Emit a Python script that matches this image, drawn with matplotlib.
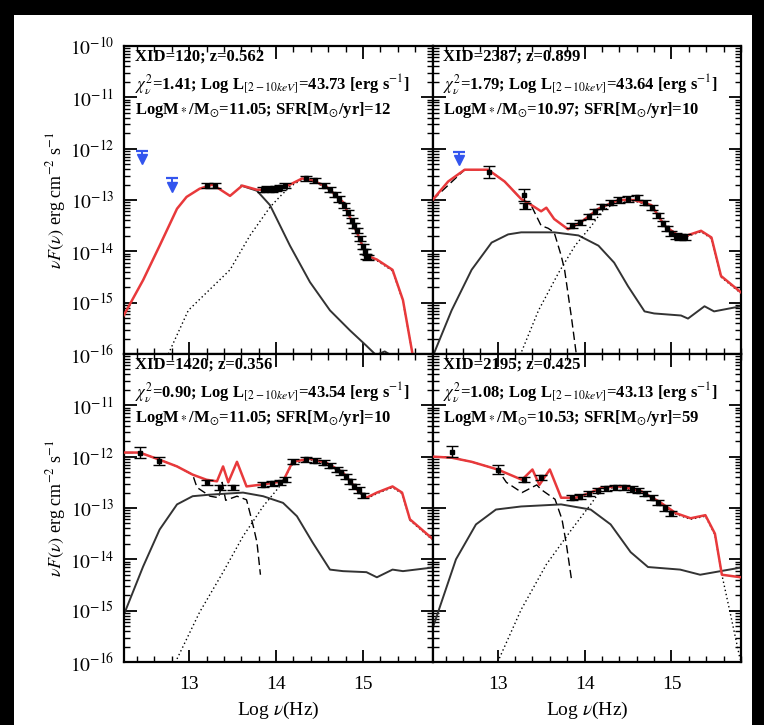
import matplotlib
matplotlib.use('Agg')
import matplotlib.pyplot as plt
import numpy as np
from matplotlib.patches import Rectangle
from matplotlib.ticker import MultipleLocator, LogLocator, NullFormatter, FixedLocator, FuncFormatter

# ---------------- data (log10 nu [Hz], log10 nuF_nu [erg cm^-2 s^-1]) ----------------
# Panel 1: XID=120
p1_total_x = [12.24, 12.47, 12.66, 12.86, 12.97, 13.12, 13.27, 13.47, 13.61, 13.78, 14.01, 14.16, 14.30, 14.42, 14.58, 14.77, 14.93, 15.04, 15.16, 15.34, 15.46, 15.57, 15.62]
p1_total_y = [-15.27, -14.56, -13.89, -13.17, -12.94, -12.78, -12.70, -12.92, -12.72, -12.80, -12.80, -12.70, -12.58, -12.62, -12.74, -13.04, -13.63, -14.08, -14.16, -14.36, -14.95, -16.0, -16.6]
p1_torus_x = [13.60, 13.78, 13.93, 14.16, 14.39, 14.62, 14.85, 15.04, 15.15, 15.25, 15.35, 15.45]
p1_torus_y = [-12.72, -12.82, -13.10, -13.89, -14.60, -15.15, -15.54, -15.84, -16.02, -15.95, -16.05, -16.2]
p1_star_x = [12.76, 12.99, 13.47, 13.70, 13.93, 14.04, 14.16, 14.30, 14.42, 14.58, 14.77, 14.93, 15.04, 15.16, 15.34, 15.46, 15.57]
p1_star_y = [-16.0, -15.15, -14.36, -13.69, -13.14, -12.94, -12.74, -12.60, -12.64, -12.76, -13.06, -13.65, -14.10, -14.18, -14.38, -14.97, -16.0]
p1_sb_x = []
p1_sb_y = []
p1_pts_x = [13.20, 13.30, 13.85, 13.90, 13.95, 14.00, 14.05, 14.10, 14.35, 14.45, 14.55, 14.62, 14.68, 14.72, 14.78, 14.83, 14.87, 14.90, 14.93, 14.96, 15.00, 15.02, 15.04, 15.06]
p1_pts_y = [-12.72, -12.72, -12.80, -12.78, -12.80, -12.77, -12.75, -12.72, -12.58, -12.62, -12.72, -12.80, -12.90, -12.98, -13.10, -13.25, -13.40, -13.50, -13.60, -13.75, -13.90, -14.00, -14.10, -14.12]
p1_pts_e = [0.05] * 24
p1_ul_x = [12.46, 12.80]
p1_ul_y = [-12.05, -12.58]

# Panel 2: XID=2387
p2_total_x = [12.25, 12.43, 12.62, 12.89, 13.08, 13.27, 13.39, 13.50, 13.56, 13.65, 13.81, 13.96, 14.16, 14.39, 14.57, 14.77, 14.92, 15.11, 15.34, 15.46, 15.57, 15.80]
p2_total_y = [-13.00, -12.64, -12.41, -12.41, -12.64, -12.98, -13.10, -13.22, -13.15, -13.37, -13.57, -13.43, -13.17, -13.00, -13.00, -13.10, -13.50, -13.73, -13.60, -13.73, -14.48, -14.80]
p2_torus_x = [12.24, 12.47, 12.70, 12.93, 13.12, 13.27, 13.65, 13.93, 14.16, 14.34, 14.50, 14.69, 14.80, 15.11, 15.19, 15.38, 15.49, 15.80]
p2_torus_y = [-16.10, -15.15, -14.36, -13.83, -13.67, -13.63, -13.63, -13.69, -13.89, -14.22, -14.68, -15.17, -15.21, -15.25, -15.31, -15.07, -15.17, -15.07]
p2_star_x = [13.24, 13.47, 13.70, 13.89, 14.08, 14.20, 14.39, 14.57, 14.77, 14.92, 15.11, 15.34, 15.46, 15.57, 15.80]
p2_star_y = [-16.10, -15.15, -14.42, -13.89, -13.50, -13.22, -13.02, -13.02, -13.12, -13.52, -13.75, -13.62, -13.75, -14.50, -14.82]
p2_sb_x = [12.25, 12.62, 12.89, 13.08, 13.27, 13.39, 13.50, 13.58, 13.65, 13.73, 13.77, 13.85, 13.92]
p2_sb_y = [-13.00, -12.41, -12.41, -12.64, -12.98, -13.12, -13.50, -13.55, -13.63, -14.08, -14.36, -15.3, -16.2]
p2_pts_x = [12.90, 13.30, 13.32, 13.85, 13.95, 14.05, 14.12, 14.20, 14.30, 14.40, 14.50, 14.60, 14.70, 14.78, 14.85, 14.90, 14.95, 15.00, 15.05, 15.10, 15.15]
p2_pts_y = [-12.45, -12.90, -13.12, -13.50, -13.43, -13.32, -13.22, -13.12, -13.05, -13.00, -12.98, -12.95, -13.05, -13.15, -13.30, -13.45, -13.55, -13.65, -13.70, -13.72, -13.72]
p2_pts_e = [0.12, 0.12, 0.06] + [0.05] * 18
p2_ul_x = [12.55]
p2_ul_y = [-12.07]

# Panel 3: XID=1420
p3_total_x = [12.26, 12.43, 12.66, 12.86, 13.04, 13.20, 13.32, 13.39, 13.45, 13.55, 13.66, 13.85, 14.08, 14.19, 14.39, 14.58, 14.77, 14.93, 15.04, 15.16, 15.34, 15.45, 15.54, 15.80]
p3_total_y = [-11.92, -11.92, -12.06, -12.19, -12.35, -12.45, -12.48, -12.19, -12.50, -12.10, -12.58, -12.54, -12.48, -12.10, -12.04, -12.12, -12.31, -12.64, -12.80, -12.70, -12.58, -12.70, -13.22, -13.60]
p3_torus_x = [12.26, 12.47, 12.66, 12.86, 13.04, 13.24, 13.62, 13.85, 14.08, 14.24, 14.42, 14.62, 14.77, 15.04, 15.16, 15.34, 15.46, 15.80]
p3_torus_y = [-15.03, -14.14, -13.42, -12.93, -12.77, -12.74, -12.70, -12.77, -12.90, -13.16, -13.67, -14.20, -14.23, -14.25, -14.35, -14.20, -14.23, -14.16]
p3_star_x = [12.86, 13.12, 13.39, 13.62, 13.85, 14.04, 14.19, 14.39, 14.58, 14.77, 14.93, 15.04, 15.16, 15.34, 15.45, 15.54, 15.80]
p3_star_y = [-15.94, -15.03, -14.25, -13.55, -12.97, -12.58, -12.14, -12.06, -12.14, -12.33, -12.66, -12.82, -12.72, -12.60, -12.72, -13.24, -13.62]
p3_sb_x = [12.26, 12.43, 12.66, 12.86, 13.04, 13.09, 13.24, 13.34, 13.38, 13.42, 13.55, 13.66, 13.70, 13.74, 13.78, 13.82]
p3_sb_y = [-11.92, -11.92, -12.06, -12.19, -12.35, -12.60, -12.77, -12.80, -12.50, -12.85, -12.77, -12.84, -13.10, -13.37, -13.67, -14.3]
p3_pts_x = [12.43, 12.65, 13.20, 13.35, 13.50, 13.85, 13.95, 14.05, 14.10, 14.20, 14.35, 14.45, 14.55, 14.62, 14.70, 14.75, 14.80, 14.85, 14.90, 14.95, 15.00]
p3_pts_y = [-11.92, -12.08, -12.50, -12.60, -12.60, -12.55, -12.52, -12.50, -12.45, -12.10, -12.05, -12.08, -12.12, -12.18, -12.25, -12.30, -12.38, -12.48, -12.58, -12.65, -12.75]
p3_pts_e = [0.10, 0.08] + [0.05] * 19
p3_ul_x = []
p3_ul_y = []

# Panel 4: XID=2195
p4_total_x = [12.26, 12.47, 12.70, 13.00, 13.28, 13.40, 13.48, 13.60, 13.73, 13.90, 14.07, 14.20, 14.42, 14.65, 14.88, 15.05, 15.22, 15.39, 15.50, 15.58, 15.80]
p4_total_y = [-12.00, -12.02, -12.10, -12.25, -12.45, -12.25, -12.55, -12.25, -12.80, -12.80, -12.70, -12.60, -12.58, -12.67, -12.90, -13.10, -13.20, -13.14, -13.50, -14.30, -14.35]
p4_torus_x = [12.26, 12.52, 12.75, 12.98, 13.27, 13.73, 14.07, 14.30, 14.53, 14.73, 15.10, 15.33, 15.80]
p4_torus_y = [-15.30, -14.00, -13.32, -13.03, -12.97, -12.93, -13.03, -13.32, -13.86, -14.15, -14.20, -14.30, -14.16]
p4_star_x = [13.00, 13.27, 13.56, 13.85, 14.07, 14.20, 14.42, 14.65, 14.88, 15.05, 15.22, 15.39, 15.50, 15.58, 15.67, 15.79]
p4_star_y = [-16.00, -14.98, -14.10, -13.42, -12.93, -12.62, -12.60, -12.69, -12.92, -13.12, -13.22, -13.16, -13.52, -14.30, -15.00, -15.95]
p4_sb_x = [12.26, 12.47, 12.70, 13.00, 13.10, 13.28, 13.45, 13.50, 13.66, 13.74, 13.79, 13.85]
p4_sb_y = [-12.00, -12.02, -12.10, -12.25, -12.50, -12.70, -12.55, -12.64, -12.83, -13.22, -13.70, -14.4]
p4_pts_x = [12.47, 13.00, 13.30, 13.50, 13.85, 13.95, 14.05, 14.15, 14.25, 14.35, 14.45, 14.55, 14.62, 14.70, 14.78, 14.85, 14.92, 15.00]
p4_pts_y = [-11.90, -12.25, -12.45, -12.40, -12.80, -12.78, -12.72, -12.66, -12.62, -12.60, -12.60, -12.63, -12.66, -12.72, -12.80, -12.90, -13.00, -13.10]
p4_pts_e = [0.10, 0.08] + [0.05] * 16
p4_ul_x = []
p4_ul_y = []

panel_text = [
    ["XID=120; z=0.562", r"$\chi^2_{\nu}$=1.41; Log L$_{[2-10keV]}$=43.73 [erg s$^{-1}$]", r"LogM$_*$/M$_{\odot}$=11.05; SFR[M$_{\odot}$/yr]=12"],
    ["XID=2387; z=0.899", r"$\chi^2_{\nu}$=1.79; Log L$_{[2-10keV]}$=43.64 [erg s$^{-1}$]", r"LogM$_*$/M$_{\odot}$=10.97; SFR[M$_{\odot}$/yr]=10"],
    ["XID=1420; z=0.356", r"$\chi^2_{\nu}$=0.90; Log L$_{[2-10keV]}$=43.54 [erg s$^{-1}$]", r"LogM$_*$/M$_{\odot}$=11.05; SFR[M$_{\odot}$/yr]=10"],
    ["XID=2195; z=0.425", r"$\chi^2_{\nu}$=1.08; Log L$_{[2-10keV]}$=43.13 [erg s$^{-1}$]", r"LogM$_*$/M$_{\odot}$=10.53; SFR[M$_{\odot}$/yr]=59"],
]

panels = [
    (p1_total_x, p1_total_y, p1_torus_x, p1_torus_y, p1_star_x, p1_star_y, p1_sb_x, p1_sb_y, p1_pts_x, p1_pts_y, p1_pts_e, p1_ul_x, p1_ul_y),
    (p2_total_x, p2_total_y, p2_torus_x, p2_torus_y, p2_star_x, p2_star_y, p2_sb_x, p2_sb_y, p2_pts_x, p2_pts_y, p2_pts_e, p2_ul_x, p2_ul_y),
    (p3_total_x, p3_total_y, p3_torus_x, p3_torus_y, p3_star_x, p3_star_y, p3_sb_x, p3_sb_y, p3_pts_x, p3_pts_y, p3_pts_e, p3_ul_x, p3_ul_y),
    (p4_total_x, p4_total_y, p4_torus_x, p4_torus_y, p4_star_x, p4_star_y, p4_sb_x, p4_sb_y, p4_pts_x, p4_pts_y, p4_pts_e, p4_ul_x, p4_ul_y),
]

# ---------------- figure ----------------
plt.rcParams['font.family'] = ['Liberation Serif', 'DejaVu Serif']
plt.rcParams['mathtext.fontset'] = 'stix'

W, H = 764, 725
fig = plt.figure(figsize=(W / 100, H / 100), dpi=100, facecolor='black')
fig.patches.append(Rectangle((14 / W, 0), (752 - 14) / W, 1 - 15 / H,
                             transform=fig.transFigure, facecolor='white',
                             edgecolor='none', zorder=-10))

gs = fig.add_gridspec(2, 2, left=124 / W, right=741 / W, top=1 - 46 / H,
                      bottom=1 - 662 / H, wspace=0, hspace=0)


def make_fmt(skip_top):
    def f(v, pos):
        e = int(round(np.log10(v)))
        if skip_top and e == -10:
            return ''
        return r'$10^{%d}$' % e
    return FuncFormatter(f)


for i, pdata in enumerate(panels):
    (tx, ty, ox, oy, sx, sy, bx, by, px, py, pe, ux, uy) = pdata
    r, c = divmod(i, 2)
    ax = fig.add_subplot(gs[r, c])
    ax.set_yscale('log')
    ax.set_xlim(12.25, 15.8)
    ax.set_ylim(1e-16, 1e-10)

    if len(bx):
        ax.plot(bx, 10 ** np.array(by), color='black', lw=1.0, ls=(0, (6, 3)), zorder=2)
    ax.plot(ox, 10 ** np.array(oy), color='#333333', lw=1.4, zorder=2)
    ax.plot(sx, 10 ** np.array(sy), color='black', lw=1.0, ls=(0, (1, 2)), zorder=2)
    ax.plot(tx, 10 ** np.array(ty), color='#e8393b', lw=1.8, zorder=3)

    px_a = np.array(px); py_a = np.array(py); pe_a = np.array(pe)
    lo = 10 ** py_a - 10 ** (py_a - pe_a)
    hi = 10 ** (py_a + pe_a) - 10 ** py_a
    ax.errorbar(px_a, 10 ** py_a, yerr=[lo, hi], fmt='s', ms=2.5, color='black',
                ecolor='black', elinewidth=1.0, capsize=4, capthick=1.0, zorder=4)

    for xu, yu in zip(ux, uy):
        ax.plot([xu], [10 ** yu], marker='_', ms=8, mew=1.6, color='#3355ee', zorder=5)
        ax.plot([xu, xu], [10 ** yu, 10 ** (yu - 0.12)], color='#3355ee', lw=1.4, zorder=5)
        ax.plot([xu], [10 ** (yu - 0.16)], marker='v', ms=7, color='#3355ee', zorder=5)

    for k, line in enumerate(panel_text[i]):
        ax.text(0.035, 0.992 - k * 0.078 - (0.012 if k == 2 else 0), line,
                transform=ax.transAxes, fontsize=12, fontweight='bold',
                va='top', ha='left')

    ax.xaxis.set_major_locator(FixedLocator([13, 14, 15]))
    ax.xaxis.set_minor_locator(MultipleLocator(0.2))
    ax.yaxis.set_major_locator(LogLocator(base=10, numticks=10))
    ax.yaxis.set_minor_locator(LogLocator(base=10, subs=np.arange(2, 10), numticks=20))
    ax.yaxis.set_minor_formatter(NullFormatter())
    ax.yaxis.set_major_formatter(make_fmt(r == 1))
    ax.tick_params(which='both', direction='in', top=True, right=True)
    ax.tick_params(which='major', length=9, width=1.3, labelsize=14)
    ax.tick_params(which='minor', length=4.5, width=1.0)
    ax.tick_params(axis='y', pad=7)
    for sp in ax.spines.values():
        sp.set_linewidth(1.6)

    if c == 1:
        ax.set_yticklabels([])
    else:
        ax.set_ylabel(r'$\nu F(\nu)$ erg cm$^{-2}$ s$^{-1}$', fontsize=13, labelpad=1)
    if r == 0:
        ax.set_xticklabels([])
    else:
        ax.set_xlabel(r'Log $\nu$(Hz)', fontsize=14, labelpad=5)
        ax.tick_params(axis='x', pad=10)

fig.savefig('out.png', dpi=100, facecolor=fig.get_facecolor())
